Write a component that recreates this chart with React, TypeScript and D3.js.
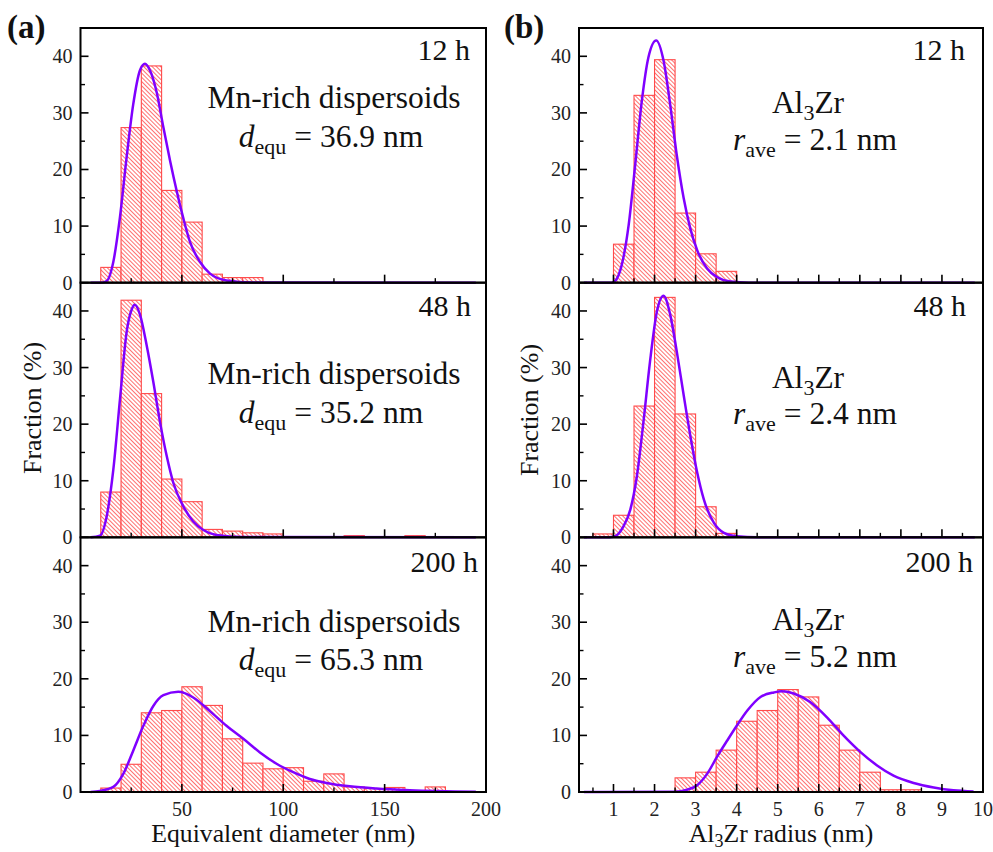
import React from 'react';
import * as d3 from 'd3';

const W = 993;
const H = 852;

// ---------- Histogram data (bin left edges, fraction %) ----------
const mn12hBins = [10, 20, 30, 40, 50, 60, 70, 80];
const mn12hFrac = [2.7, 27.4, 38.3, 16.3, 10.7, 1.5, 0.9, 0.9];
const mn48hBins = [10, 20, 30, 40, 50, 60, 70, 80, 90, 130, 160];
const mn48hFrac = [8.0, 41.9, 25.4, 10.3, 6.3, 1.4, 1.1, 0.8, 0.6, 0.3, 0.3];
const mn200hBins = [10, 20, 30, 40, 50, 60, 70, 80, 90, 100, 110, 120, 130, 140, 150, 170];
const mn200hFrac = [0.7, 4.9, 14.0, 14.4, 18.6, 15.3, 9.4, 5.1, 4.1, 4.3, 1.9, 3.2, 0.9, 0.6, 0.8, 0.9];

const al12hBins = [1.0, 1.5, 2.0, 2.5, 3.0, 3.5];
const al12hFrac = [6.8, 33.1, 39.4, 12.3, 5.1, 2.0];
const al48hBins = [0.5, 1.0, 1.5, 2.0, 2.5, 3.0, 3.5];
const al48hFrac = [0.6, 3.9, 23.2, 42.4, 21.8, 5.4, 0.7];
const al200hBins = [2.5, 3.0, 3.5, 4.0, 4.5, 5.0, 5.5, 6.0, 6.5, 7.0, 7.5, 8.0];
const al200hFrac = [2.5, 3.5, 7.4, 12.5, 14.4, 18.1, 16.8, 11.8, 7.4, 3.5, 0.4, 0.4];

// ---------- Fitted curves ----------
const mn12hFitX = [5, 10, 12.9, 16.2, 19.4, 22.7, 26, 29.3, 31.8, 34.3, 37.6, 40.9, 44.2, 47.5, 50.7, 54, 58.9, 63.9, 72, 85, 195];
const mn12hFitY = [0, 0, 0.3, 3.7, 11.4, 22, 31.5, 37.5, 38.7, 37.5, 33.6, 27.4, 21.5, 16.1, 11.4, 7.2, 3.7, 1.6, 0.4, 0.05, 0];
const mn48hFitX = [5, 9.6, 12.9, 16.2, 19.5, 22.8, 25.3, 26.8, 29.3, 32.6, 35.9, 39.2, 42.5, 45.8, 50.7, 55.6, 60.6, 67, 80, 195];
const mn48hFitY = [0, 0.3, 3.7, 12, 24.5, 36.4, 40.3, 41.1, 39.4, 34, 27.5, 20.4, 14.4, 9.6, 5.5, 2.8, 1.3, 0.4, 0.05, 0];
const mn200hFitX = [5, 9.6, 16.2, 21.1, 26, 31, 35.9, 40.9, 48.2, 55.6, 63.8, 72, 80.3, 88.5, 96.7, 104.9, 113.1, 121.3, 132.8, 145.9, 162.4, 195];
const mn200hFitY = [0, 0.2, 0.9, 3.2, 7.3, 11.7, 15.2, 17.1, 17.7, 16.7, 14.3, 11.7, 9.4, 7.0, 5.0, 3.5, 2.3, 1.6, 1.0, 0.6, 0.3, 0.05];

const al12hFitX = [0.28, 0.95, 1.04, 1.2, 1.37, 1.53, 1.69, 1.85, 2.04, 2.22, 2.38, 2.54, 2.71, 2.87, 3.04, 3.28, 3.52, 3.85, 4.3, 9.8];
const al12hFitY = [0, 0, 0.3, 3.1, 10.2, 20.9, 32.1, 39.8, 42.8, 39.2, 31.5, 22.6, 14.9, 9.6, 5.7, 2.5, 1.0, 0.2, 0, 0];
const al48hFitX = [0.28, 0.8, 1.0, 1.24, 1.41, 1.57, 1.73, 1.89, 2.06, 2.22, 2.38, 2.54, 2.71, 2.87, 3.04, 3.2, 3.45, 3.69, 4.01, 4.5, 9.8];
const al48hFitY = [0, 0, 0.1, 1.9, 4.9, 10.8, 20.4, 31.1, 40, 42.7, 39.4, 32.9, 25.1, 18, 11.4, 6.7, 2.5, 0.8, 0.2, 0, 0];
const al200hFitX = [0.28, 2.5, 2.79, 3.04, 3.28, 3.52, 3.77, 4.01, 4.26, 4.58, 4.91, 5.1, 5.39, 5.79, 6.2, 6.6, 7.01, 7.42, 7.82, 8.31, 8.8, 9.28, 9.77];
const al200hFitY = [0, 0.05, 0.4, 1.2, 3.2, 6.2, 9.1, 11.8, 14.4, 16.8, 17.6, 17.8, 17.4, 15.9, 13.2, 10, 7.1, 4.7, 2.9, 1.6, 0.8, 0.3, 0.1];

// ---------- Axes ----------
const yTicks = [0, 10, 20, 30, 40];
const yMinor = [5, 15, 25, 35];
const leftXTicks = [50, 100, 150, 200];
const leftXMinor = [25, 75, 125, 175];
const rightXTicks = [1, 2, 3, 4, 5, 6, 7, 8, 9, 10];
const rightXMinor = [0.5, 1.5, 2.5, 3.5, 4.5, 5.5, 6.5, 7.5, 8.5, 9.5];
const timeLabels = ['12 h', '48 h', '200 h'];
const mnValues = ['36.9', '35.2', '65.3'];
const alValues = ['2.1', '2.4', '5.2'];

const FONT = '"Liberation Serif", "Times New Roman", serif';
const RED = '#ff4a4a';
const HATCH = '#ff6060';
const CURVE = '#7f00ff';

const leftHist = [
  { bins: mn12hBins, frac: mn12hFrac, fx: mn12hFitX, fy: mn12hFitY },
  { bins: mn48hBins, frac: mn48hFrac, fx: mn48hFitX, fy: mn48hFitY },
  { bins: mn200hBins, frac: mn200hFrac, fx: mn200hFitX, fy: mn200hFitY },
];
const rightHist = [
  { bins: al12hBins, frac: al12hFrac, fx: al12hFitX, fy: al12hFitY },
  { bins: al48hBins, frac: al48hFrac, fx: al48hFitX, fy: al48hFitY },
  { bins: al200hBins, frac: al200hFrac, fx: al200hFitX, fy: al200hFitY },
];

const TOP = 28;
const PH = 254.67;

type Side = {
  x: d3.ScaleLinear<number, number>;
  binW: number;
  hist: { bins: number[]; frac: number[]; fx: number[]; fy: number[] }[];
  majors: number[];
  minors: number[];
  key: string;
};

function Panel({ side, row }: { side: Side; row: number }) {
  const top = TOP + row * PH;
  const bottom = top + PH;
  const y = d3.scaleLinear().domain([0, 45]).range([bottom, top]);
  const [x0, x1] = side.x.range();
  const h = side.hist[row];
  const pts = h.fx.map((v, i) => [v, h.fy[i]] as [number, number]);
  const line = d3
    .line<[number, number]>()
    .x((d) => side.x(d[0]))
    .y((d) => y(d[1]))
    .curve(d3.curveMonotoneX);
  return (
    <g>
      {h.bins.map((b, i) => (
        <rect
          key={`b${i}`}
          x={side.x(b)}
          y={y(h.frac[i])}
          width={side.x(b + side.binW) - side.x(b)}
          height={y(0) - y(h.frac[i])}
          fill="url(#hatch)"
          stroke={RED}
          strokeWidth={1.1}
        />
      ))}
      <path d={line(pts) || ''} fill="none" stroke={CURVE} strokeWidth={2.5} />
      <rect x={x0} y={top} width={x1 - x0} height={PH} fill="none" stroke="#000" strokeWidth={2} />
      {yTicks.map((t) => (
        <g key={`yt${t}`}>
          <line x1={x0} x2={x0 + 8} y1={y(t)} y2={y(t)} stroke="#000" strokeWidth={1.6} />
          <text x={x0 - 8} y={y(t)} dy="0.35em" textAnchor="end" fontSize={20} fill="#222">
            {t}
          </text>
        </g>
      ))}
      {yMinor.map((t) => (
        <line key={`ym${t}`} x1={x0} x2={x0 + 4.5} y1={y(t)} y2={y(t)} stroke="#000" strokeWidth={1.4} />
      ))}
      {side.majors.map((t) => (
        <line key={`xt${t}`} x1={side.x(t)} x2={side.x(t)} y1={bottom} y2={bottom - 8} stroke="#000" strokeWidth={1.6} />
      ))}
      {side.minors.map((t) => (
        <line key={`xm${t}`} x1={side.x(t)} x2={side.x(t)} y1={bottom} y2={bottom - 4.5} stroke="#000" strokeWidth={1.4} />
      ))}
    </g>
  );
}

export default function App() {
  const leftX = d3.scaleLinear().domain([0, 200]).range([80.5, 486]);
  const rightX = d3.scaleLinear().domain([0.16, 10]).range([579, 983]);
  const left: Side = { x: leftX, binW: 10, hist: leftHist, majors: leftXTicks, minors: leftXMinor, key: 'L' };
  const right: Side = { x: rightX, binW: 0.5, hist: rightHist, majors: rightXTicks, minors: rightXMinor, key: 'R' };
  const rows = [0, 1, 2];

  const mnY = [[80, 119], [101, 140], [95, 133]];
  const alY = [[85, 122], [105, 141], [93, 130]];
  const timeRightL = [470, 471, 478];
  const timeRightR = [965, 966, 973];
  const timeY = [32, 33, 35];

  return (
    <svg
      width={W}
      height={H}
      viewBox={`0 0 ${W} ${H}`}
      style={{ position: 'absolute', left: 0, top: 0, background: '#fff' }}
      fontFamily={FONT}
    >
      <defs>
        <pattern id="hatch" patternUnits="userSpaceOnUse" width={3} height={3} patternTransform="rotate(-45)">
          <rect width={3} height={3} fill="#fff" />
          <line x1={0.5} y1={0} x2={0.5} y2={3} stroke={HATCH} strokeWidth={0.9} />
        </pattern>
      </defs>
      <rect width={W} height={H} fill="#fff" />
      {rows.map((r) => (
        <Panel key={`L${r}`} side={left} row={r} />
      ))}
      {rows.map((r) => (
        <Panel key={`R${r}`} side={right} row={r} />
      ))}

      {rows.map((r) => {
        const top = TOP + r * PH;
        return (
          <g key={`txt${r}`} fill="#111">
            <text x={timeRightL[r]} y={top + timeY[r]} textAnchor="end" fontSize={30}>
              {timeLabels[r]}
            </text>
            <text x={timeRightR[r]} y={top + timeY[r]} textAnchor="end" fontSize={30}>
              {timeLabels[r]}
            </text>
            <text x={334} y={top + mnY[r][0]} textAnchor="middle" fontSize={31.5}>
              Mn-rich dispersoids
            </text>
            <text x={331} y={top + mnY[r][1]} textAnchor="middle" fontSize={31.5}>
              <tspan fontStyle="italic">d</tspan>
              <tspan fontSize={22} dy={7}>equ</tspan>
              <tspan dy={-7}> = {mnValues[r]} nm</tspan>
            </text>
            <text x={808} y={top + alY[r][0]} textAnchor="middle" fontSize={31.5}>
              Al<tspan fontSize={22} dy={7}>3</tspan>
              <tspan dy={-7}>Zr</tspan>
            </text>
            <text x={815} y={top + alY[r][1]} textAnchor="middle" fontSize={31.5}>
              <tspan fontStyle="italic">r</tspan>
              <tspan fontSize={22} dy={7}>ave</tspan>
              <tspan dy={-7}> = {alValues[r]} nm</tspan>
            </text>
          </g>
        );
      })}

      {leftXTicks.map((t) => (
        <text key={`lxl${t}`} x={leftX(t)} y={816} textAnchor="middle" fontSize={20} fill="#222">
          {t}
        </text>
      ))}
      {rightXTicks.map((t) => (
        <text key={`rxl${t}`} x={rightX(t)} y={816} textAnchor="middle" fontSize={20} fill="#222">
          {t}
        </text>
      ))}

      <text x={(80.5 + 486) / 2} y={842} textAnchor="middle" fontSize={25.7} fill="#111">
        Equivalent diameter (nm)
      </text>
      <text x={(579 + 983) / 2} y={842} textAnchor="middle" fontSize={25.7} fill="#111">
        Al<tspan fontSize={18} dy={5}>3</tspan>
        <tspan dy={-5}>Zr radius (nm)</tspan>
      </text>
      <text transform="translate(41,408) rotate(-90)" textAnchor="middle" fontSize={26} fill="#111">
        Fraction (%)
      </text>
      <text transform="translate(538,410) rotate(-90)" textAnchor="middle" fontSize={26} fill="#111">
        Fraction (%)
      </text>

      <text x={7} y={38} fontSize={33} fontWeight="bold" fill="#111">
        (a)
      </text>
      <text x={504} y={38} fontSize={33} fontWeight="bold" fill="#111">
        (b)
      </text>
    </svg>
  );
}
